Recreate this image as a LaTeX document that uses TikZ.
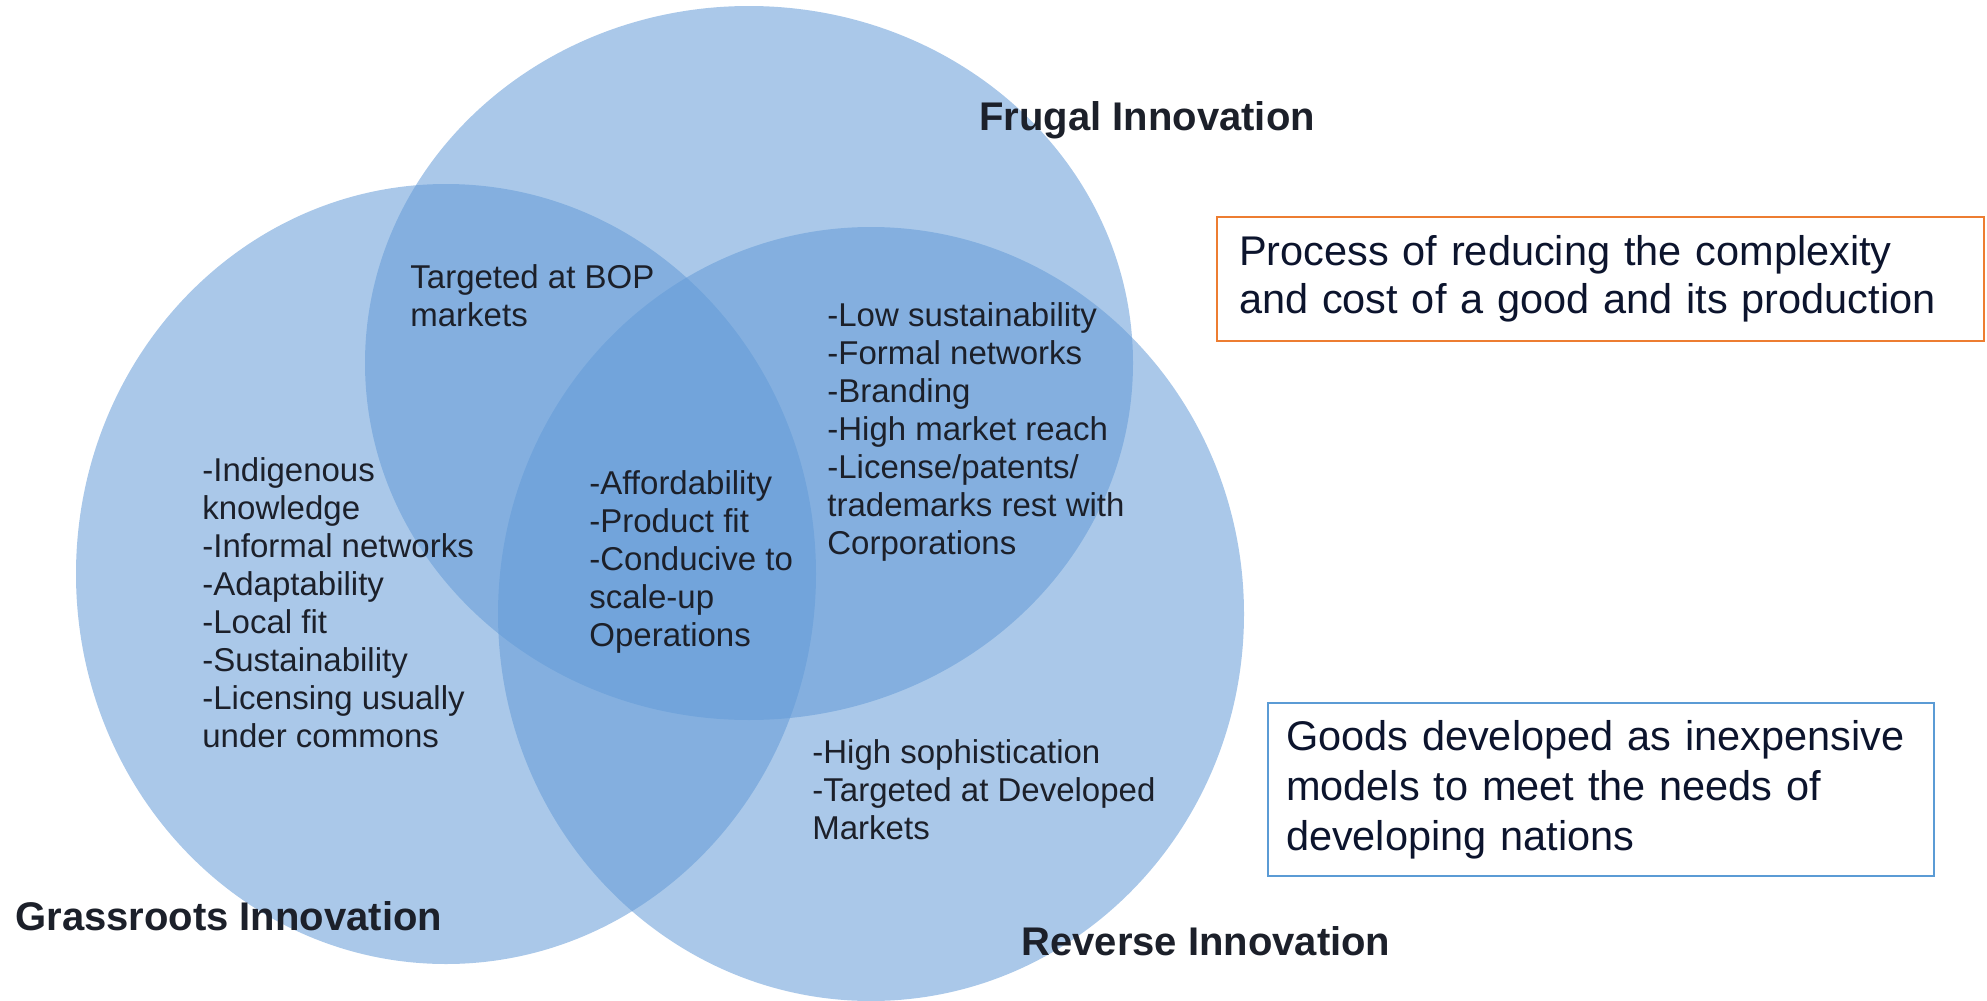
\documentclass[tikz,border=0pt]{standalone}
\usepackage{fontspec}
\setmainfont{Liberation Sans}
\usepackage{xcolor}
\usepackage{tikz}
\usetikzlibrary{shapes.geometric}
\definecolor{vennblue}{RGB}{100,155,215}
\definecolor{inkdark}{RGB}{28,32,42}
\definecolor{boxorange}{RGB}{237,125,49}
\definecolor{boxblue}{RGB}{91,155,213}
\definecolor{boxink}{RGB}{12,20,45}
\tikzset{venn/.style={ellipse, fill=vennblue, fill opacity=0.55, inner sep=0pt},
	items/.style={anchor=north west, align=left, inner sep=0pt, text=inkdark,
		font=\fontsize{16.5}{19}\selectfont},
	setname/.style={anchor=west, inner sep=0pt, text=inkdark,
		font=\fontsize{20}{24}\selectfont\bfseries},
	defbox/.style={anchor=north west, draw, line width=1pt, align=left, inner ysep=0pt,
		text=boxink}}

\begin{document}
\begin{tikzpicture}[
			x = 0.5pt, % one pixel of the drawing
			y = -0.5pt, % y counts downwards
		]
		\useasboundingbox (0,0) rectangle (1987,1001);
		% the three sets
		\node[venn, minimum width=384pt, minimum height=357pt] (frugal) at (749,363){};
		\node[venn, minimum width=370pt, minimum height=390pt] (grass) at (446,574){};
		\node[venn, minimum width=373pt, minimum height=387pt] (reverse) at (871,614){};
		% set names
		\node[setname] (frugalname) at (979,120){Frugal Innovation};
		\node[setname] (grassname) at (15,916){Grassroots Innovation};
		\node[setname] (revname) at (1021,941){Reverse Innovation};
		% what lies in each region
		\node[items] (bop) at (410,264){Targeted at BOP\\markets};
		\node[items] (grassitems) at (202,457){-Indigenous\\knowledge\\-Informal networks\\-Adaptability\\-Local fit\\-Sustainability\\-Licensing usually\\under commons};
		\node[items] (core) at (589,470){-Affordability\\-Product fit\\-Conducive to\\scale-up\\Operations};
		\node[items] (frugrev) at (827,302){-Low sustainability\\-Formal networks\\-Branding\\-High market reach\\-License/patents/\\trademarks rest with\\Corporations};
		\node[items] (revitems) at (812,739){-High sophistication\\-Targeted at Developed\\Markets};
		% definitions
		\node[defbox, draw=boxorange, font=\fontsize{20.75}{24}\selectfont, inner xsep=11pt, text width=361.5pt, minimum height=62pt] (frugaldef) at (1216,216){Process of reducing the complexity\\and cost of a good and its production};
		\node[defbox, draw=boxblue, font=\fontsize{20.75}{25}\selectfont, inner xsep=9pt, text width=315pt, minimum height=86.5pt] (reversedef) at (1267,702){Goods developed as inexpensive\\models to meet the needs of\\developing nations};
		\end{tikzpicture}
\end{document}
